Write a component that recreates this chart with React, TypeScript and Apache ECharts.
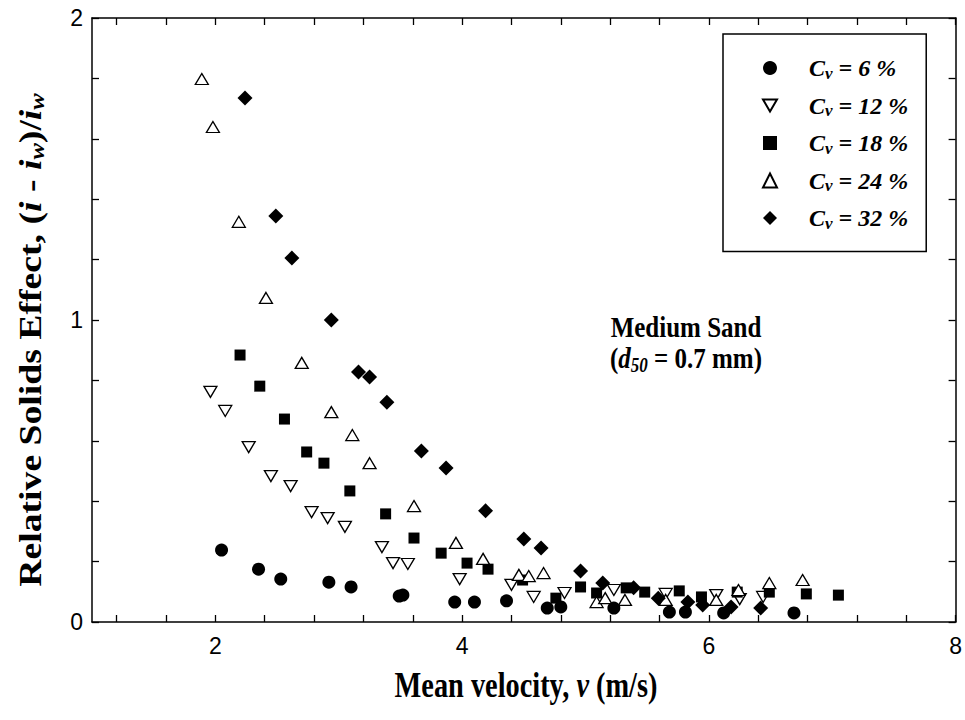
import React, { useEffect, useRef } from 'react';
import * as echarts from 'echarts';

// Concentrations (legend)
const cvLabels = ['6', '12', '18', '24', '32'];
const seriesNames = ['Cv = 6 %', 'Cv = 12 %', 'Cv = 18 %', 'Cv = 24 %', 'Cv = 32 %'];

// Axis ticks / labels
const xTickValues = [1.2, 1.6, 2, 2.4, 2.8, 3.2, 3.6, 4, 4.4, 4.8, 5.2, 5.6, 6, 6.4, 6.8, 7.2, 7.6, 8];
const xLabelValues = [2, 4, 6, 8];
const yLabelValues = [0, 1, 2];

// Cv = 6 %
const v06 = [2.05, 2.35, 2.53, 2.92, 3.10, 3.49, 3.52, 3.94, 4.10, 4.36, 4.69, 4.80, 5.23, 5.68, 5.81, 6.12, 6.69];
const r06 = [0.238, 0.175, 0.142, 0.132, 0.116, 0.086, 0.089, 0.066, 0.066, 0.070, 0.046, 0.050, 0.046, 0.033, 0.033, 0.030, 0.030];
// Cv = 12 %
const v12 = [1.96, 2.08, 2.27, 2.45, 2.61, 2.78, 2.91, 3.05, 3.35, 3.44, 3.56, 3.98, 4.40, 4.58, 4.83, 5.23, 5.65, 6.06, 6.25, 6.44];
const r12 = [0.762, 0.699, 0.579, 0.483, 0.450, 0.364, 0.344, 0.315, 0.248, 0.195, 0.192, 0.142, 0.123, 0.083, 0.096, 0.106, 0.093, 0.089, 0.076, 0.083];
// Cv = 18 %
const v18 = [2.20, 2.36, 2.56, 2.74, 2.88, 3.09, 3.38, 3.61, 3.83, 4.04, 4.21, 4.49, 4.76, 4.96, 5.09, 5.33, 5.48, 5.76, 5.94, 6.23, 6.49, 6.79, 7.05];
const r18 = [0.884, 0.781, 0.672, 0.563, 0.526, 0.434, 0.358, 0.278, 0.228, 0.195, 0.175, 0.139, 0.079, 0.116, 0.096, 0.113, 0.099, 0.103, 0.083, 0.099, 0.099, 0.093, 0.089];
// Cv = 24 %
const v24 = [1.89, 1.98, 2.19, 2.41, 2.70, 2.94, 3.11, 3.25, 3.61, 3.95, 4.17, 4.46, 4.54, 4.66, 5.09, 5.16, 5.32, 5.65, 6.06, 6.24, 6.49, 6.76];
const r24 = [1.798, 1.639, 1.325, 1.073, 0.858, 0.695, 0.619, 0.526, 0.384, 0.262, 0.209, 0.156, 0.152, 0.162, 0.066, 0.079, 0.073, 0.073, 0.073, 0.106, 0.129, 0.139];
// Cv = 32 %
const v32 = [2.24, 2.49, 2.62, 2.94, 3.16, 3.25, 3.39, 3.67, 3.87, 4.19, 4.50, 4.64, 4.96, 5.14, 5.39, 5.59, 5.83, 5.95, 6.18, 6.42];
const r32 = [1.735, 1.344, 1.205, 1.000, 0.828, 0.811, 0.728, 0.566, 0.510, 0.368, 0.275, 0.245, 0.169, 0.129, 0.113, 0.079, 0.066, 0.056, 0.050, 0.046];

const SERIF = '"Liberation Serif", "Times New Roman", serif';
const SANS = '"Liberation Sans", Arial, sans-serif';
const DOWN_TRIANGLE = 'path://M0,0L10,0L5,8.66Z';

const pairs = (xs: number[], ys: number[]) => xs.map((x, i) => [x, ys[i]]);

export default function App() {
  const ref = useRef<HTMLDivElement>(null);

  useEffect(() => {
    document.body.style.margin = '0';
    if (!ref.current) return;
    const chart = echarts.init(ref.current, undefined, { renderer: 'svg' });

    const open = { color: '#ffffff', borderColor: '#000000', borderWidth: 1.3, opacity: 1 };
    const filled = { color: '#000000', borderColor: '#000000', borderWidth: 0, opacity: 1 };

    const baseX = {
      type: 'value' as const,
      min: 1,
      max: 8,
      axisLine: { show: true, onZero: false, lineStyle: { color: '#000', width: 1.5 } },
      axisTick: { show: true, inside: true, length: 7, customValues: xTickValues, lineStyle: { color: '#000', width: 1.3 } },
      splitLine: { show: false },
    };
    const baseY = {
      type: 'value' as const,
      min: 0,
      max: 2,
      interval: 0.2,
      axisLine: { show: true, onZero: false, lineStyle: { color: '#000', width: 1.5 } },
      axisTick: { show: true, inside: true, length: 7, lineStyle: { color: '#000', width: 1.3 } },
      splitLine: { show: false },
    };

    const richBase = { fontFamily: SERIF, fontWeight: 'bold', color: '#000' };

    const option: any = {
      animation: false,
      backgroundColor: '#ffffff',
      grid: { left: 92, right: 7, top: 18, bottom: 98, containLabel: false },
      xAxis: [
        {
          ...baseX,
          position: 'bottom',
          axisLabel: {
            show: true,
            customValues: xLabelValues,
            fontFamily: SANS,
            fontSize: 23,
            color: '#000',
            margin: 12,
          },
        },
        { ...baseX, position: 'top', axisLabel: { show: false } },
      ],
      yAxis: [
        {
          ...baseY,
          position: 'left',
          axisLabel: {
            show: true,
            customValues: yLabelValues,
            fontFamily: SANS,
            fontSize: 23,
            color: '#000',
            margin: 9,
          },
        },
        { ...baseY, position: 'right', axisLabel: { show: false } },
      ],
      legend: {
        orient: 'vertical',
        left: 723,
        top: 34,
        data: seriesNames,
        itemWidth: 14,
        itemHeight: 14,
        itemGap: 12,
        padding: [22, 18, 20, 39],
        borderColor: '#000',
        borderWidth: 1.5,
        backgroundColor: '#fff',
        formatter: (name: string) => {
          const i = seriesNames.indexOf(name);
          return `{gap| }{c|C}{s|v}{c| = ${cvLabels[i]} %}`;
        },
        textStyle: {
          color: '#000',
          rich: {
            gap: { width: 27, fontSize: 10 },
            c: { ...richBase, fontSize: 24, fontStyle: 'italic' },
            s: { ...richBase, fontSize: 17, fontStyle: 'italic', padding: [10, 0, 0, 0] },
          },
        },
      },
      graphic: [
        {
          type: 'text',
          x: 526,
          y: 685,
          scaleX: 1.05,
          scaleY: 1.3,
          style: {
            text: '{b|Mean velocity, }{bi|v}{b| (m/s)}',
            align: 'center',
            verticalAlign: 'middle',
            fill: '#000',
            rich: {
              b: { ...richBase, fontSize: 27 },
              bi: { ...richBase, fontSize: 27, fontStyle: 'italic' },
            },
          },
        },
        {
          type: 'text',
          x: 30,
          y: 340,
          rotation: Math.PI / 2,
          scaleX: 1.45,
          scaleY: 1.2,
          style: {
            text: '{b|Relative Solids Effect, (}{bi|i}{b| - }{bi|i}{sub|w}{b|)/}{bi|i}{sub|w}',
            align: 'center',
            verticalAlign: 'middle',
            fill: '#000',
            rich: {
              b: { ...richBase, fontSize: 26 },
              bi: { ...richBase, fontSize: 26, fontStyle: 'italic' },
              sub: { ...richBase, fontSize: 17, fontStyle: 'italic', padding: [12, 0, 0, 0] },
            },
          },
        },
        {
          type: 'text',
          x: 686,
          y: 327,
          scaleY: 1.2,
          style: {
            text: 'Medium Sand',
            align: 'center',
            verticalAlign: 'middle',
            font: `bold 25px ${SERIF}`,
            fill: '#000',
          },
        },
        {
          type: 'text',
          x: 686,
          y: 358,
          scaleY: 1.2,
          style: {
            text: '{b|(}{bi|d}{sub|50}{b| = 0.7 mm)}',
            align: 'center',
            verticalAlign: 'middle',
            fill: '#000',
            rich: {
              b: { ...richBase, fontSize: 25 },
              bi: { ...richBase, fontSize: 25, fontStyle: 'italic' },
              sub: { ...richBase, fontSize: 17, fontStyle: 'italic', padding: [12, 0, 0, 0] },
            },
          },
        },
      ],
      series: [
        {
          name: seriesNames[0],
          type: 'scatter',
          symbol: 'circle',
          symbolSize: 13,
          itemStyle: filled,
          data: pairs(v06, r06),
        },
        {
          name: seriesNames[1],
          type: 'scatter',
          symbol: DOWN_TRIANGLE,
          symbolSize: [13, 11],
          itemStyle: open,
          data: pairs(v12, r12),
        },
        {
          name: seriesNames[2],
          type: 'scatter',
          symbol: 'rect',
          symbolSize: 11,
          itemStyle: filled,
          data: pairs(v18, r18),
        },
        {
          name: seriesNames[3],
          type: 'scatter',
          symbol: 'triangle',
          symbolSize: [13, 11],
          itemStyle: open,
          data: pairs(v24, r24),
        },
        {
          name: seriesNames[4],
          type: 'scatter',
          symbol: 'diamond',
          symbolSize: 15,
          itemStyle: filled,
          data: pairs(v32, r32),
        },
      ],
    };

    chart.setOption(option);
    return () => chart.dispose();
  }, []);

  return <div ref={ref} style={{ width: 965, height: 720 }} />;
}
